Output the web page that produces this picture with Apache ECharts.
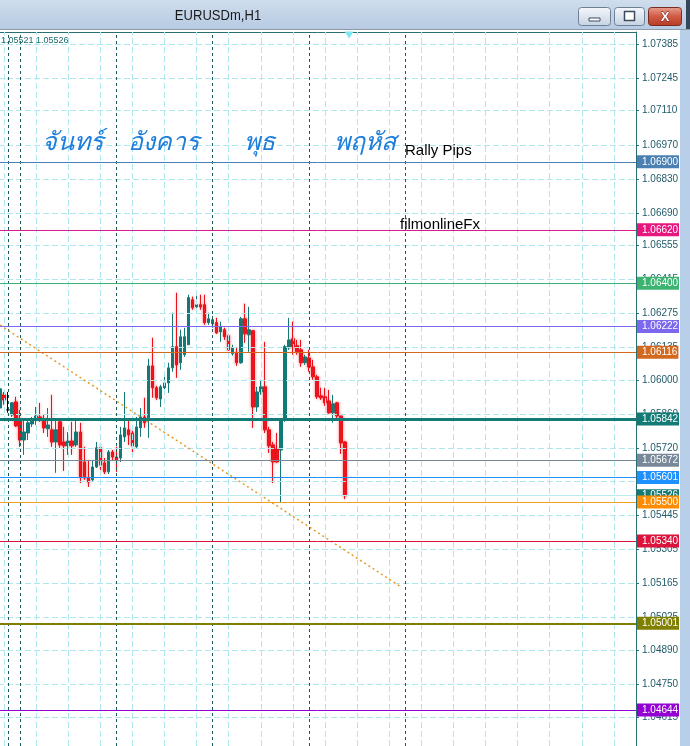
<!DOCTYPE html>
<html><head><meta charset="utf-8">
<script src="https://cdn.jsdelivr.net/npm/echarts@6/dist/echarts.min.js"></script>
<style>html,body{margin:0;padding:0;background:#fff;}#c{width:690px;height:746px;}</style>
</head><body><div id="c"></div>
<script>
// ---------------- DATA ----------------
// OHLC per H1 bar: [open, close, low, high]
const candles = [
[1.05887,1.05966,1.05879,1.05970],
[1.05941,1.05920,1.05900,1.05953],
[1.05879,1.05879,1.05867,1.05953],
[1.05858,1.05908,1.05850,1.05912],
[1.05912,1.05813,1.05809,1.05933],
[1.05838,1.05755,1.05727,1.05879],
[1.05755,1.05788,1.05694,1.05838],
[1.05784,1.05826,1.05755,1.05838],
[1.05821,1.05834,1.05809,1.05850],
[1.05838,1.05854,1.05817,1.05891],
[1.05850,1.05838,1.05830,1.05908],
[1.05838,1.05805,1.05784,1.05858],
[1.05801,1.05817,1.05768,1.05887],
[1.05797,1.05747,1.05727,1.05941],
[1.05747,1.05797,1.05620,1.05838],
[1.05830,1.05735,1.05723,1.05838],
[1.05747,1.05731,1.05628,1.05809],
[1.05731,1.05751,1.05694,1.05788],
[1.05751,1.05731,1.05694,1.05830],
[1.05735,1.05788,1.05727,1.05838],
[1.05788,1.05603,1.05578,1.05826],
[1.05665,1.05599,1.05591,1.05727],
[1.05599,1.05582,1.05562,1.05673],
[1.05591,1.05644,1.05582,1.05673],
[1.05644,1.05723,1.05640,1.05747],
[1.05723,1.05652,1.05632,1.05743],
[1.05661,1.05624,1.05615,1.05681],
[1.05624,1.05706,1.05615,1.05714],
[1.05706,1.05685,1.05673,1.05714],
[1.05685,1.05673,1.05624,1.05727],
[1.05681,1.05776,1.05665,1.05809],
[1.05768,1.05805,1.05747,1.05953],
[1.05797,1.05776,1.05735,1.05838],
[1.05784,1.05731,1.05694,1.05805],
[1.05727,1.05809,1.05718,1.05850],
[1.05805,1.05850,1.05768,1.05887],
[1.05850,1.05826,1.05805,1.05929],
[1.05838,1.06060,1.05764,1.06089],
[1.06060,1.05970,1.05929,1.06176],
[1.05970,1.05929,1.05920,1.05978],
[1.05924,1.05974,1.05891,1.05982],
[1.05970,1.05990,1.05961,1.06031],
[1.05990,1.06052,1.05949,1.06073],
[1.06052,1.06139,1.06036,1.06279],
[1.06139,1.06064,1.06011,1.06361],
[1.06073,1.06180,1.06044,1.06209],
[1.06106,1.06180,1.06097,1.06217],
[1.06147,1.06341,1.06147,1.06353],
[1.06332,1.06299,1.06291,1.06345],
[1.06303,1.06312,1.06295,1.06361],
[1.06312,1.06303,1.06291,1.06353],
[1.06312,1.06238,1.06229,1.06353],
[1.06238,1.06254,1.06229,1.06279],
[1.06233,1.06250,1.06217,1.06266],
[1.06238,1.06196,1.06192,1.06258],
[1.06200,1.06221,1.06159,1.06242],
[1.06209,1.06180,1.06167,1.06217],
[1.06184,1.06126,1.06122,1.06188],
[1.06110,1.06134,1.06102,1.06147],
[1.06114,1.06073,1.06060,1.06134],
[1.06073,1.06254,1.06069,1.06262],
[1.06254,1.06192,1.06155,1.06316],
[1.06188,1.06209,1.06118,1.06303],
[1.06205,1.05891,1.05805,1.06205],
[1.05891,1.05953,1.05871,1.05974],
[1.05953,1.05974,1.05941,1.06003],
[1.05974,1.05797,1.05784,1.06159],
[1.05797,1.05731,1.05702,1.05809],
[1.05735,1.05665,1.05578,1.05747],
[1.05718,1.05665,1.05661,1.05784],
[1.05714,1.05838,1.05496,1.05846],
[1.05838,1.06139,1.05830,1.06147],
[1.06134,1.06167,1.06126,1.06258],
[1.06172,1.06139,1.06106,1.06242],
[1.06143,1.06118,1.06106,1.06167],
[1.06126,1.06073,1.06056,1.06167],
[1.06073,1.06097,1.06064,1.06106],
[1.06093,1.06056,1.06036,1.06126],
[1.06056,1.06015,1.06003,1.06085],
[1.06015,1.05933,1.05924,1.06023],
[1.05937,1.05929,1.05920,1.05970],
[1.05933,1.05908,1.05896,1.05970],
[1.05916,1.05867,1.05863,1.05961],
[1.05867,1.05904,1.05826,1.05941],
[1.05908,1.05854,1.05846,1.05912],
[1.05854,1.05743,1.05698,1.05854],
[1.05747,1.05526,1.05512,1.05751]
];

// price-axis tick labels
const tickValues = [1.07385,1.07245,1.07110,1.06970,1.06830,1.06690,1.06555,1.06415,1.06275,1.06135,
  1.06000,1.05860,1.05720,1.05585,1.05445,1.05305,1.05165,1.05025,1.04890,1.04750,1.04615];

// horizontal level lines
const levelValues = [1.06900,1.06620,1.06400,1.06222,1.06116,1.05842,1.05672,1.05601,1.05526,1.05500,1.05340,1.05001,1.04644];

// trend line end points [bar index, price]
const trendStart = [0, 1.06228];
const trendEnd = [100, 1.05150];

// day names (Thai) and chart labels
const dayLabels = ['จันทร์','อังคาร','พุธ','พฤหัส'];
const textLabels = ['Rally Pips','filmonlineFx'];
const titleText = 'EURUSDm,H1';
const quoteText = '1.05521 1.05526';
const yMin = 1.04496, yMax = 1.07434;

// bar time labels (hidden axis)
const dayBlocks = [['13',22,24],['15',21,24],['16',0,24],['17',0,24],['18',0,24],['19',0,24],['20',0,24],['22',21,24],['23',0,24],['24',0,7]];
const categories = [];
dayBlocks.forEach(([d,a,b])=>{for(let h=a;h<b;h++) categories.push(d+' '+String(h).padStart(2,'0')+':00');});
const separatorCats = ['15 21:00','16 00:00','17 00:00','18 00:00','19 00:00','20 00:00'];

// ---------------- STYLES ----------------
const levelLineColors = ['#4a80b2','#d81b8c','#3cb371','#7b68ee','#d2691e','#137b76','#778899','#1e90ff','#b8eef2','#f0a020','#dc143c','#808000','#9400d3'];
const levelLabelColors = ['#4a80b2','#e8177e','#3cb371','#7b68ee','#d2691e','#137b76','#778899','#1e90ff','#137a74','#ff8c00','#dc143c','#808000','#9400d3'];
const levelWidths = [1,1,1,1,1,3,1,1,1,1,1,2,1];
const AXIS_FONT = '"Liberation Sans",Arial,sans-serif';

const chart = echarts.init(document.getElementById('c'));

const levelLines = levelValues.map((v,i)=>({
  yAxis: v,
  lineStyle:{color:levelLineColors[i], width:levelWidths[i], type:'solid'},
  label:{show:true, position:'end', distance:1, formatter:()=>v.toFixed(5),
    backgroundColor:levelLabelColors[i], color:'#fff', fontSize:10, fontFamily:AXIS_FONT,
    padding:[2,1,1,5], lineHeight:10}
}));

const gridLines = [];
categories.forEach((c,i)=>{ if(i%8===1) gridLines.push({xAxis:c, lineStyle:{color:'#aee8ee', type:[6,3], width:1}}); });
tickValues.forEach(v=>gridLines.push({yAxis:v, lineStyle:{color:'#aee8ee', type:[6,3], width:1}}));
separatorCats.forEach(c=>gridLines.push({xAxis:c, lineStyle:{color:'#1c5a5e', type:[3,3], width:1}}));

// bearish bars get the soft red halo seen in the screenshot
const candleItems = candles.map(c => c[1] < c[0]
  ? {value:c, itemStyle:{shadowBlur:3, shadowColor:'rgba(255,40,40,0.55)'}}
  : c);

const btnGrad = new echarts.graphic.LinearGradient(0,0,0,1,[{offset:0,color:'#f5f8fc'},{offset:1,color:'#c6d2e2'}]);
const closeGrad = new echarts.graphic.LinearGradient(0,0,0,1,[{offset:0,color:'#e8a090'},{offset:0.5,color:'#d05a44'},{offset:1,color:'#b83a26'}]);
const thaiFont = 'italic 25px sans-serif';

chart.setOption({
  animation:false,
  backgroundColor:'#ffffff',
  grid:{left:-2, right:54, top:32, bottom:0, outerBoundsMode:'none'},
  xAxis:{type:'category', data:categories, boundaryGap:true, position:'top',
    axisLine:{show:true, lineStyle:{color:'#2a6f72'}}, axisTick:{show:false}, axisLabel:{show:false}, splitLine:{show:false}},
  yAxis:{type:'value', position:'right', min:yMin, max:yMax, scale:true,
    axisLine:{show:true, lineStyle:{color:'#2a6f72', width:1}},
    axisTick:{show:true, customValues:tickValues, length:3, lineStyle:{color:'#2a6f72'}},
    axisLabel:{customValues:tickValues, formatter:v=>v.toFixed(5), color:'#1f5a6a', fontSize:10, fontFamily:AXIS_FONT, margin:6},
    splitLine:{show:false}},
  series:[
    {type:'line', data:[], z:1, silent:true,
     markLine:{silent:true, precision:6, symbol:['none','none'], label:{show:false}, animation:false, data:gridLines}},
    {type:'candlestick', data:candleItems, z:2, barWidth:3,
     itemStyle:{color:'#127a76', color0:'#e8121c', borderColor:'#127a76', borderColor0:'#e8121c', borderColorDoji:'#000000', borderWidth:1},
     markPoint:{silent:true, data:[{coord:[categories[87], yMax], symbol:'triangle', symbolRotate:180, symbolSize:[9,7], symbolOffset:[0,3],
       itemStyle:{color:'#7ce9f2'}, label:{show:false}}]}},
    {type:'line', data:[], z:3, silent:true,
     markLine:{silent:true, precision:6, symbol:['none','none'], animation:false,
       data:[
         [{coord:[categories[trendStart[0]], trendStart[1]], lineStyle:{color:'#e39a28', type:[2,3], width:1.5}, label:{show:false}},
          {coord:[categories[trendEnd[0]], trendEnd[1]]}],
         ...levelLines
       ]}}
  ],
  graphic:[
    // title bar
    {type:'rect', z:100, shape:{x:0,y:0,width:690,height:30},
     style:{fill:new echarts.graphic.LinearGradient(0,0,0,1,[{offset:0,color:'#cfdded'},{offset:1,color:'#b6cae2'}])}},
    {type:'rect', z:101, shape:{x:0,y:29,width:690,height:1}, style:{fill:'#8e9aa8'}},
    {type:'text', z:102, x:218, y:16, scaleX:0.87, style:{x:0, y:0, text:titleText, textAlign:'center', textVerticalAlign:'middle',
      font:'15px "Liberation Sans",sans-serif', fill:'#1a1a1a'}},
    {type:'rect', z:101, shape:{x:578.5,y:7.5,width:32,height:18,r:3}, style:{fill:btnGrad, stroke:'#6f7f94'}},
    {type:'rect', z:102, shape:{x:589,y:18,width:11,height:3}, style:{fill:'#ffffff', stroke:'#3d4b5e', lineWidth:1}},
    {type:'rect', z:101, shape:{x:614.5,y:7.5,width:30,height:18,r:3}, style:{fill:btnGrad, stroke:'#6f7f94'}},
    {type:'rect', z:102, shape:{x:624.5,y:11.5,width:10,height:9}, style:{fill:'#ffffff', stroke:'#3d4b5e', lineWidth:1.5}},
    {type:'rect', z:101, shape:{x:648.5,y:7.5,width:33,height:18,r:3}, style:{fill:closeGrad, stroke:'#7a2b1f'}},
    {type:'text', z:102, style:{x:665, y:17, text:'X', textAlign:'center', textVerticalAlign:'middle',
      font:'bold 13px "Liberation Sans",sans-serif', fill:'#ffffff', stroke:'#6a2418', lineWidth:1}},
    {type:'rect', z:100, shape:{x:686,y:0,width:4,height:30}, style:{fill:'#34465a'}},
    // right frame strip
    {type:'rect', z:100, shape:{x:680,y:30,width:10,height:716}, style:{fill:'#b7cfe9'}},
    {type:'rect', z:100, shape:{x:679,y:30,width:1,height:716}, style:{fill:'#ffffff'}},
    // quote text
    {type:'text', z:50, style:{x:1, y:41, text:quoteText, textVerticalAlign:'middle',
      font:'9px "Liberation Sans",sans-serif', fill:'#1f6a6a'}},
    // Thai day names
    {type:'text', z:50, style:{x:72, y:143, text:dayLabels[0], textAlign:'center', textVerticalAlign:'middle', font:thaiFont, fill:'#1f7ddb'}},
    {type:'text', z:50, style:{x:163, y:143, text:dayLabels[1], textAlign:'center', textVerticalAlign:'middle', font:thaiFont, fill:'#1f7ddb'}},
    {type:'text', z:50, style:{x:259, y:143, text:dayLabels[2], textAlign:'center', textVerticalAlign:'middle', font:thaiFont, fill:'#1f7ddb'}},
    {type:'text', z:50, style:{x:365, y:143, text:dayLabels[3], textAlign:'center', textVerticalAlign:'middle', font:thaiFont, fill:'#1f7ddb'}},
    {type:'text', z:50, style:{x:405, y:151, text:textLabels[0], textVerticalAlign:'middle', font:'15px "Liberation Sans",sans-serif', fill:'#000'}},
    {type:'text', z:50, style:{x:400, y:225, text:textLabels[1], textVerticalAlign:'middle', font:'15px "Liberation Sans",sans-serif', fill:'#000'}}
  ]
});
</script></body></html>
